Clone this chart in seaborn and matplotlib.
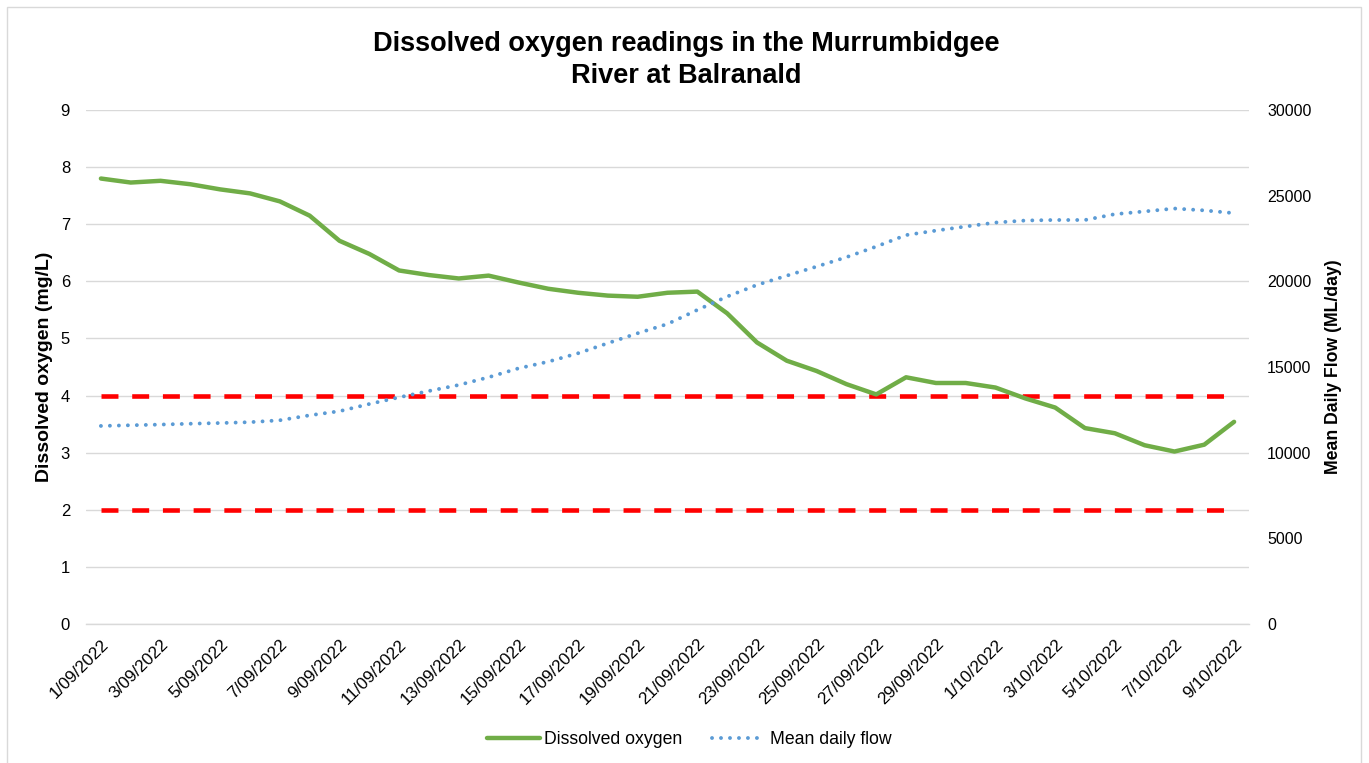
"""Dissolved oxygen and flow in the Murrumbidgee River at Balranald."""

import matplotlib.pyplot as plt
import matplotlib.transforms as mtransforms
import pandas as pd
import seaborn as sns
from matplotlib.lines import Line2D
from matplotlib.patches import Rectangle

sns.set_theme(style="white")
plt.rcParams['font.family'] = ['Liberation Sans', 'DejaVu Sans']
plt.rcParams['text.color'] = 'black'
plt.rcParams['axes.labelcolor'] = 'black'
plt.rcParams['xtick.color'] = 'black'
plt.rcParams['ytick.color'] = 'black'

# Daily readings, 1/09/2022 to 9/10/2022
dates = pd.date_range("2022-09-01", "2022-10-09", freq="D")
dissolved_oxygen = [
    7.80, 7.73, 7.76, 7.70, 7.61, 7.54, 7.40, 7.15, 6.71, 6.48,
    6.19, 6.11, 6.05, 6.10, 5.98, 5.87, 5.80, 5.75, 5.73, 5.80,
    5.82, 5.44, 4.93, 4.61, 4.43, 4.20, 4.02, 4.32, 4.22, 4.22,
    4.14, 3.95, 3.79, 3.43, 3.34, 3.13, 3.02, 3.14, 3.54,
]
mean_daily_flow = [
    11560, 11600, 11640, 11690, 11730, 11780, 11890, 12180, 12420, 12840,
    13230, 13600, 13950, 14400, 14920, 15310, 15800, 16390, 16970, 17510,
    18330, 19110, 19790, 20330, 20860, 21410, 22030, 22700, 22960, 23200,
    23430, 23550, 23580, 23580, 23920, 24080, 24250, 24140, 23980,
]
upper_limit = 4
lower_limit = 2

df = pd.DataFrame({
    'date': dates,
    'oxygen': dissolved_oxygen,
    'flow': mean_daily_flow,
    'upper': upper_limit,
    'lower': lower_limit,
})

GREEN = '#70AD47'
BLUE = '#5B9BD5'
RED = '#FF0000'
GRID = '#D9D9D9'

W, H = 1369, 763
fig = plt.figure(figsize=(W / 100, H / 100), dpi=100)
ax = fig.add_axes([86 / W, 1 - 624 / H, (1249 - 86) / W, (624 - 110) / H])
ax2 = ax.twinx()

# threshold lines
for col in ['upper', 'lower']:
    sns.lineplot(data=df, x='date', y=col, ax=ax, color=RED, linewidth=3.3,
                 linestyle=(0, (3.7, 3.0)), legend=False)

sns.lineplot(data=df, x='date', y='oxygen', ax=ax, color=GREEN,
             linewidth=3.2, legend=False)
sns.lineplot(data=df, x='date', y='flow', ax=ax2, color=BLUE, linewidth=2.8,
             linestyle=(0, (0.01, 2.3)), dash_capstyle='round', legend=False)

half_day = pd.Timedelta(hours=12)
ax.set_xlim(dates[0] - half_day, dates[-1] + half_day)
ax.set_ylim(0, 9)
ax2.set_ylim(0, 30000)

ax.set_yticks(range(0, 10))
ax2.set_yticks(range(0, 30001, 5000))
ax.set_xticks(dates[::2])
ax.set_xticklabels([d.strftime('%-d/%m/%Y') for d in dates[::2]])
ax.set_xticks(dates[::2] - half_day, minor=True)

shift = mtransforms.ScaledTranslation(-4 / 100, -2 / 100, fig.dpi_scale_trans)
for lbl in ax.get_xticklabels():
    lbl.set_rotation(45)
    lbl.set_ha('right')
    lbl.set_va('top')
    lbl.set_rotation_mode('anchor')
    lbl.set_transform(lbl.get_transform() + shift)

ax.tick_params(axis='x', which='major', length=0, pad=9, labelsize=12.3)
ax.tick_params(axis='x', which='minor', length=5, width=1, color=GRID, direction='out')
ax.tick_params(axis='y', length=0, pad=11.5, labelsize=12)
ax2.tick_params(axis='y', length=0, pad=13, labelsize=11.5)

ax.grid(False)
ax2.grid(False)
ax.yaxis.grid(True, color=GRID, linewidth=1)
ax.set_axisbelow(True)
for a in (ax, ax2):
    for s in a.spines.values():
        s.set_visible(False)
ax.spines['bottom'].set_visible(True)
ax.spines['bottom'].set_color(GRID)
ax.spines['bottom'].set_linewidth(1)

ax.set_xlabel('')
ax.set_ylabel('Dissolved oxygen (mg/L)', fontsize=14, fontweight='bold')
ax.yaxis.set_label_coords(-0.028, 0.5)
ax2.set_ylabel('Mean Daily Flow (ML/day)', fontsize=12.7, fontweight='bold')
ax2.yaxis.set_label_coords(1.065, 0.5)

fig.text(686 / W, 1 - 60 / H,
         'Dissolved oxygen readings in the Murrumbidgee\nRiver at Balranald',
         ha='center', va='center', fontsize=19.5, fontweight='bold', linespacing=1.3)

handles = [
    Line2D([], [], color=GREEN, linewidth=3.2),
    Line2D([], [], color=BLUE, linewidth=2.8, linestyle=(0, (0.01, 2.3)),
           dash_capstyle='round'),
]
fig.legend(handles, ['Dissolved oxygen', 'Mean daily flow'], loc='center',
           bbox_to_anchor=(689 / W, 1 - 740 / H), ncol=2, frameon=False,
           fontsize=12.7, handlelength=3.0, handletextpad=0.25, columnspacing=1.7)

# chart border
fig.patches.append(Rectangle((7 / W, -0.01), (1361 - 7) / W, 1 - 7 / H + 0.01,
                             transform=fig.transFigure, fill=False,
                             edgecolor=GRID, linewidth=1))

fig.savefig('out.png', dpi=100)
plt.close(fig)
